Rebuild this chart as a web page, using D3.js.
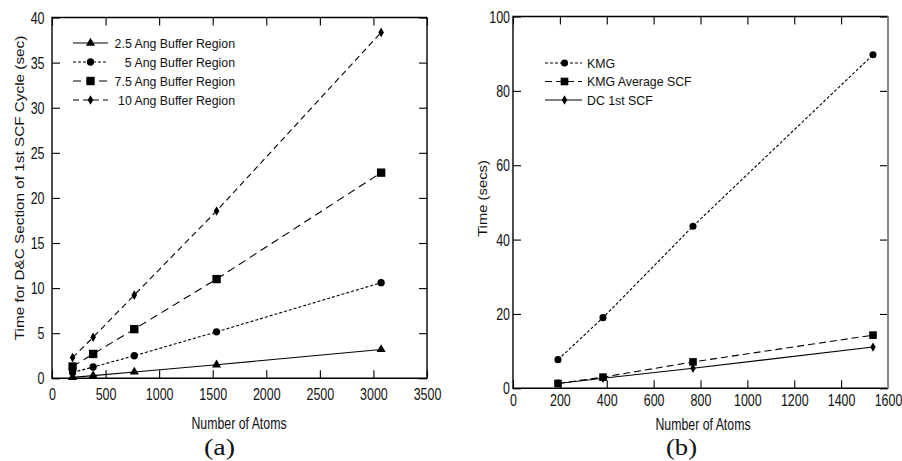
<!DOCTYPE html>
<html><head><meta charset="utf-8">
<script src="https://cdn.jsdelivr.net/npm/d3@7"></script>
<style>
html,body{margin:0;padding:0;background:#fff;}
svg{display:block;}
text{font-family:"Liberation Sans",Arial,Helvetica,sans-serif;font-size:16px;fill:#111;}
</style></head>
<body>
<script>
// ---------- DATA ----------
// Panel (a)
const atomsA = [192, 384, 768, 1536, 3072];
const buffer25 = [0.1, 0.3, 0.7, 1.5, 3.2];
const buffer5 = [0.65, 1.25, 2.5, 5.15, 10.6];
const buffer75 = [1.3, 2.7, 5.45, 11.0, 22.8];
const buffer10 = [2.3, 4.55, 9.23, 18.55, 38.35];
const seriesNamesA = ["2.5 Ang Buffer Region", "5 Ang Buffer Region", "7.5 Ang Buffer Region", "10 Ang Buffer Region"];
const xTicksA = [0, 500, 1000, 1500, 2000, 2500, 3000, 3500];
const yTicksA = [0, 5, 10, 15, 20, 25, 30, 35, 40];
// Panel (b)
const atomsB = [192, 384, 768, 1536];
const kmg = [7.7, 19.0, 43.6, 89.7];
const kmgAvgSCF = [1.3, 3.0, 7.1, 14.3];
const dc1stSCF = [1.3, 2.7, 5.4, 11.1];
const seriesNamesB = ["KMG", "KMG Average SCF", "DC 1st SCF"];
const xTicksB = [0, 200, 400, 600, 800, 1000, 1200, 1400, 1600];
const yTicksB = [0, 20, 40, 60, 80, 100];

// ---------- SETUP ----------
const W = 902, H = 461;
const svg = d3.select("body").append("svg").attr("width", W).attr("height", H);
svg.append("rect").attr("width", W).attr("height", H).attr("fill", "#fff");

function htext(g, x, y, str, anchor, fs, sx, rotate) {
  return g.append("text")
    .attr("transform", `translate(${x},${y}) scale(${sx},1)` + (rotate ? " rotate(-90)" : ""))
    .attr("text-anchor", anchor || "middle")
    .attr("dy", "0.35em")
    .style("font-size", fs + "px")
    .text(str);
}

function marker(g, type, x, y, size) {
  const sym = {tri: d3.symbolTriangle, circ: d3.symbolCircle, sq: d3.symbolSquare, dia: d3.symbolDiamond}[type];
  g.append("path").attr("d", d3.symbol().type(sym).size(size)())
    .attr("transform", `translate(${x},${y})`).attr("fill", "#000").attr("stroke", "none");
}

function panel(cfg) {
  const g = svg.append("g");
  const x = d3.scaleLinear().domain(cfg.xDomain).range(cfg.xRange);
  const y = d3.scaleLinear().domain(cfg.yDomain).range(cfg.yRange);
  const tk = 8, SX = 0.78;
  const bottom = g.append("g").attr("transform", `translate(0,${cfg.yRange[0]})`)
    .call(d3.axisBottom(x).tickValues(cfg.xTicks).tickSize(-tk).tickFormat(d3.format("d")));
  const top = g.append("g").attr("transform", `translate(0,${cfg.yRange[1]})`)
    .call(d3.axisTop(x).tickValues(cfg.xTicks).tickSize(-tk).tickFormat(""));
  const left = g.append("g").attr("transform", `translate(${cfg.xRange[0]},0)`)
    .call(d3.axisLeft(y).tickValues(cfg.yTicks).tickSize(-tk).tickFormat(d3.format("d")));
  const right = g.append("g").attr("transform", `translate(${cfg.xRange[1]},0)`)
    .call(d3.axisRight(y).tickValues(cfg.yTicks).tickSize(-tk).tickFormat(""));
  [bottom, top, left, right].forEach(a => {
    a.select(".domain").remove();
    a.selectAll("line").attr("stroke", "#000").attr("stroke-width", 1.1);
    a.attr("font-family", null).attr("font-size", null);
  });
  bottom.selectAll("text").attr("y", cfg.xLabOff).attr("dy", "0.35em").attr("fill", "#111")
    .attr("transform", `scale(${SX},1)`);
  left.selectAll("text").attr("x", cfg.yLabOff / SX).attr("dy", "0.35em").attr("fill", "#111")
    .attr("text-anchor", "end").attr("transform", `scale(${SX},1)`);
  const [x0, x1] = cfg.xRange, [y0, y1] = cfg.yRange;
  g.append("path").attr("d", `M${x1},${y1}H${x0}V${y0}H${x1}`).attr("fill", "none").attr("stroke", "#000").attr("stroke-width", 1.4);
  g.append("line").attr("x1", x1).attr("x2", x1).attr("y1", y1).attr("y2", y0)
    .attr("stroke", cfg.rightColor || "#000").attr("stroke-width", cfg.rightWidth || 1.4);
  const line = d3.line().x(d => x(d[0])).y(d => y(d[1]));
  cfg.series.forEach(s => {
    const pts = cfg.xs.map((v, i) => [v, s.values[i]]);
    g.append("path").attr("d", line(pts)).attr("fill", "none").attr("stroke", "#000")
      .attr("stroke-width", 1.1).attr("stroke-dasharray", s.dash || null);
    pts.forEach(p => marker(g, s.mark, x(p[0]), y(p[1]), s.size));
  });
  const L = cfg.legend;
  cfg.series.forEach((s, i) => {
    const yy = L.rows[i];
    g.append("line").attr("x1", L.x1).attr("x2", L.x2).attr("y1", yy).attr("y2", yy)
      .attr("stroke", "#000").attr("stroke-width", 1.1).attr("stroke-dasharray", s.dash || null);
    marker(g, s.mark, L.mx, yy, s.size);
    htext(g, L.tx, yy, s.name, L.anchor, 13, 0.95);
  });
  htext(g, cfg.xTitle[0], cfg.xTitle[1], "Number of Atoms", "middle", 16, 0.77);
  htext(g, cfg.yTitle[0], cfg.yTitle[1], cfg.yTitleText, "middle", cfg.yTitleFs, 0.88, true);
  g.append("text").attr("x", cfg.tag[0]).attr("y", cfg.tag[1]).attr("dy", "0.35em")
    .attr("text-anchor", "middle").style("font-family", "'Liberation Serif','DejaVu Serif',serif")
    .style("font-size", "24px").attr("textLength", 31).attr("lengthAdjust", "spacingAndGlyphs").text(cfg.tagText);
}

panel({
  xDomain: [0, 3500], xRange: [52, 427],
  yDomain: [0, 40], yRange: [378.3, 17.5],
  xTicks: xTicksA, yTicks: yTicksA,
  xLabOff: 15.7, yLabOff: -7.5,
  xs: atomsA,
  series: [
    {name: seriesNamesA[0], values: buffer25, dash: null, mark: "tri", size: 36},
    {name: seriesNamesA[1], values: buffer5, dash: "3,2", mark: "circ", size: 42},
    {name: seriesNamesA[2], values: buffer75, dash: "8,5", mark: "sq", size: 70},
    {name: seriesNamesA[3], values: buffer10, dash: "6,4", mark: "dia", size: 27}
  ],
  legend: {x1: 73, x2: 108, mx: 90.5, tx: 235, anchor: "end", rows: [43, 62, 81, 100]},
  xTitle: [239, 423], yTitle: [19.5, 188], yTitleFs: 15.3, yTitleText: "Time for D&C Section of 1st SCF Cycle (sec)",
  tag: [219.5, 447], tagText: "(a)"
});

panel({
  xDomain: [0, 1600], xRange: [513, 888],
  yDomain: [0, 100], yRange: [388.3, 16.5],
  xTicks: xTicksB, yTicks: yTicksB,
  xLabOff: 11.7, yLabOff: -3,
  xs: atomsB,
  rightColor: "#888", rightWidth: 2,
  series: [
    {name: seriesNamesB[0], values: kmg, dash: "3,2", mark: "circ", size: 40},
    {name: seriesNamesB[1], values: kmgAvgSCF, dash: "7,4", mark: "sq", size: 58},
    {name: seriesNamesB[2], values: dc1stSCF, dash: null, mark: "dia", size: 25}
  ],
  legend: {x1: 545, x2: 582, mx: 564.5, tx: 587, anchor: "start", rows: [63, 81.5, 100]},
  xTitle: [703, 424], yTitle: [482.7, 198.5], yTitleFs: 14.8, yTitleText: "Time (secs)",
  tag: [681.5, 447], tagText: "(b)"
});
</script>
</body></html>
